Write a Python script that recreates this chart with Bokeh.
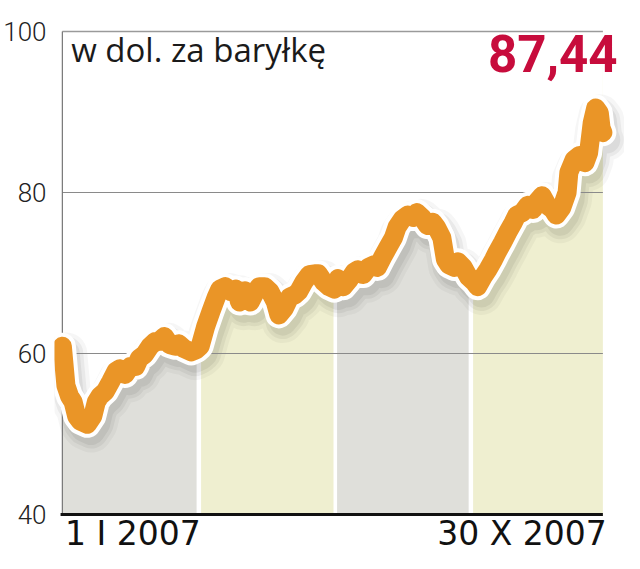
from bokeh.plotting import figure
from bokeh.models import Range1d, FixedTicker, Label
from bokeh.embed import file_html
from bokeh.resources import INLINE

# ---- data (day of 2007 counted from 1 I, price in USD per barrel) ----
days = [0, 2, 4, 6, 8, 10, 14, 17, 19, 21, 24, 27, 30, 32, 35, 38, 41, 43, 46, 49,
        52, 54, 57, 60, 63, 65, 68, 72, 75, 77, 80, 83, 86, 88, 91, 94, 97, 99, 102, 105,
        108, 110, 113, 116, 119, 121, 124, 127, 130, 132, 135, 138, 141, 143, 146, 149, 152, 154, 157, 160,
        163, 165, 168, 171, 174, 176, 179, 182, 185, 187, 190, 193, 196, 198, 201, 204, 207, 209, 212, 214,
        216, 219, 221, 224, 227, 230, 232, 235, 238, 241, 243, 246, 249, 252, 254, 257, 260, 263, 265, 268,
        271, 274, 276, 279, 282, 283, 286, 289, 292, 294, 296, 298, 300, 301, 302]
prices = [60.9, 56.0, 54.7, 54.0, 52.2, 51.6, 51.2, 52.2, 54.0, 54.7, 55.3, 56.5, 57.8, 58.1, 57.4, 58.4, 58.4, 59.4, 59.9, 60.9,
          61.5, 61.5, 62.1, 61.1, 60.9, 61.2, 60.6, 60.2, 60.5, 60.9, 63.3, 65.2, 67.0, 68.0, 68.3, 67.7, 68.0, 66.4, 67.8, 66.4,
          67.7, 68.3, 68.3, 67.7, 66.4, 64.8, 65.6, 67.0, 67.3, 67.7, 68.9, 69.8, 69.9, 69.9, 68.9, 68.3, 68.0, 69.3, 68.3, 69.1,
          70.1, 70.4, 69.8, 70.7, 71.0, 70.7, 72.0, 73.2, 74.4, 75.7, 76.7, 77.2, 76.9, 77.5, 76.9, 75.9, 76.3, 75.7, 74.4, 71.7,
          71.0, 70.7, 71.4, 70.7, 69.5, 68.9, 68.3, 69.5, 70.5, 71.7, 72.6, 73.8, 75.1, 76.3, 77.2, 77.5, 78.4, 77.9, 78.8, 79.6,
          78.4, 77.9, 77.2, 78.1, 80.0, 82.5, 84.1, 84.6, 83.7, 84.9, 88.6, 90.5, 89.9, 88.0, 87.44]

band_start = [0, 77.5, 153.5, 229.5]
band_end = [75, 151.5, 227, 302]
band_colors = ["#dfdfda", "#efefd0", "#dfdfda", "#efefd0"]

y_ticks = [40, 60, 80, 100]
grid_values = [60, 80]
x_labels = ["1 I 2007", "30 X 2007"]
title_text = "w dol. za baryłkę"
last_value_text = "87,44"

W, H = 624, 553
p = figure(width=W, height=H, output_backend="svg", toolbar_location=None,
           x_range=Range1d(-4.39, 314.08), y_range=Range1d(35.155, 103.851),
           min_border_left=44, min_border_right=0, min_border_top=0, min_border_bottom=0,
           x_axis_location=None)
p.outline_line_color = None
p.background_fill_color = "white"
p.border_fill_color = "white"
p.xgrid.visible = False
p.ygrid.visible = False

ax = p.yaxis[0]
ax.ticker = FixedTicker(ticks=y_ticks)
ax.axis_line_color = None
ax.major_tick_line_color = None
ax.minor_tick_line_color = None
ax.major_label_standoff = 2
ax.major_label_text_font = "Roboto Light"
ax.major_label_text_font_size = "26px"
ax.major_label_text_color = "#222222"

y_top = y_ticks[-1]
y_bot = y_ticks[0]

# quarter bands
p.quad(left=band_start, right=band_end, bottom=[y_bot] * 4, top=[y_top] * 4,
       fill_color=band_colors, line_color=None)
# white above the curve
p.varea(x=days, y1=prices, y2=[y_top] * len(days), fill_color="white")

# drop shadow
sx = [d + 2.2 for d in days]
sy = [v - 0.9 for v in prices]
p.line(sx, sy, line_width=42, color="black", alpha=0.035, line_join="round", line_cap="round")
p.line(sx, sy, line_width=34, color="black", alpha=0.05, line_join="round", line_cap="round")
p.line(sx, sy, line_width=27, color="black", alpha=0.06, line_join="round", line_cap="round")

# grid and frame lines
p.segment(x0=[days[0]] * 2, x1=[days[-1]] * 2, y0=grid_values, y1=grid_values,
          line_color="#8a8a8a", line_width=1.2)
p.segment(x0=[days[0]], x1=[days[-1]], y0=[y_top], y1=[y_top], line_color="#9a9a9a", line_width=1.5)
p.segment(x0=[days[0]], x1=[days[0]], y0=[y_bot], y1=[y_top], line_color="#777777", line_width=1.2)

# price line with white outline
p.line(days, prices, line_width=27, color="white", line_join="round", line_cap="round")
p.line(days, prices, line_width=19, color="#ea9527", line_join="round", line_cap="round")

# bottom axis line
p.segment(x0=[days[0] - 1], x1=[days[-1]], y0=[y_bot], y1=[y_bot], line_color="#111111", line_width=3.2)

# texts
p.add_layout(Label(x=4.9, y=97.76, text=title_text, text_font="Open Sans",
                   text_font_size="33px", text_color="#1a1a1a", text_baseline="alphabetic"))
p.add_layout(Label(x=310.2, y=97.26, text=last_value_text, text_font="Roboto",
                   text_font_style="bold", text_font_size="51px", text_color="#c70c3c",
                   text_align="right", text_baseline="alphabetic"))
p.add_layout(Label(x=days[0] + 1.5, y=37.64, text=x_labels[0], text_font="DejaVu Sans",
                   text_font_size="33px", text_color="#111111", text_baseline="alphabetic"))
p.add_layout(Label(x=days[-1] + 2.2, y=37.64, text=x_labels[1], text_font="DejaVu Sans",
                   text_font_size="33px", text_color="#111111", text_align="right",
                   text_baseline="alphabetic"))

open("out.html", "w").write(file_html(p, INLINE))
